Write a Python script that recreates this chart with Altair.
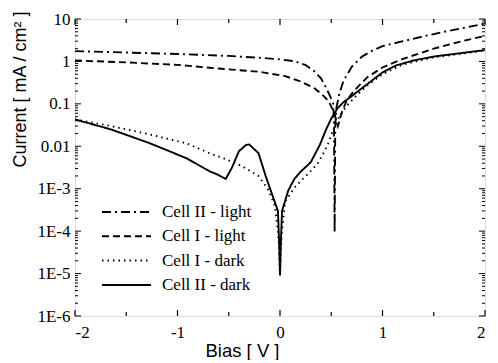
import altair as alt
import pandas as pd

# ---------------- data ----------------
series_names = ["Cell II - light", "Cell I - light", "Cell I - dark", "Cell II - dark"]

c2_light_bias = [-2.0, -1.5, -1.0, -0.5, -0.2, 0.0, 0.15, 0.25, 0.33, 0.4, 0.45, 0.49, 0.52,
                 0.527, 0.533, 0.539, 0.55, 0.58, 0.62, 0.7, 0.8, 0.9, 1.0, 1.2, 1.4, 1.6, 1.8, 2.0]
c2_light_curr = [1.75, 1.62, 1.5, 1.35, 1.22, 1.12, 1.0, 0.82, 0.6, 0.4, 0.24, 0.15, 0.1,
                 0.03, 9.5e-5, 0.03, 0.08, 0.18, 0.35, 0.75, 1.3, 1.8, 2.3, 3.0, 3.9, 5.0, 6.2, 7.8]

c1_light_bias = [-2.0, -1.5, -1.0, -0.6, -0.2, 0.05, 0.2, 0.34, 0.43, 0.48, 0.53, 0.565,
                 0.6, 0.65, 0.72, 0.85, 1.0, 1.2, 1.5, 1.75, 2.0]
c1_light_curr = [1.05, 0.95, 0.83, 0.68, 0.57, 0.45, 0.34, 0.23, 0.15, 0.11, 0.06, 0.03,
                 0.06, 0.12, 0.2, 0.42, 0.72, 1.15, 2.0, 2.9, 4.0]

c1_dark_bias = [-2.0, -1.65, -1.27, -0.91, -0.69, -0.53, -0.37, -0.21, -0.12, -0.05, -0.015, 0.0,
                0.015, 0.05, 0.14, 0.2, 0.3, 0.37, 0.46, 0.52, 0.58, 0.65, 0.75, 0.85, 1.0,
                1.2, 1.5, 1.75, 2.0]
c1_dark_curr = [0.043, 0.03, 0.019, 0.0117, 0.0069, 0.005, 0.0034, 0.002, 0.001, 4e-4, 8e-5, 1e-5,
                8e-5, 5e-4, 1.05e-3, 1.5e-3, 2.6e-3, 0.004, 0.01, 0.025, 0.05, 0.09, 0.16, 0.27, 0.5,
                0.85, 1.25, 1.5, 1.8]

c2_dark_bias = [-2.0, -1.65, -1.27, -0.91, -0.69, -0.6, -0.53, -0.47, -0.4, -0.33, -0.3, -0.21,
                -0.14, -0.09, -0.02, -0.008, 0.0, 0.008, 0.02, 0.08, 0.14, 0.2, 0.3, 0.39, 0.45,
                0.5, 0.56, 0.62, 0.68, 0.85, 1.0, 1.13, 1.3, 1.5, 1.75, 2.0]
c2_dark_curr = [0.043, 0.025, 0.0118, 0.0052, 0.0026, 0.0021, 0.0017, 0.0031, 0.0077, 0.0108, 0.011,
                0.0069, 0.002, 9e-4, 3e-4, 5e-5, 9e-6, 5e-5, 3e-4, 9e-4, 1.7e-3, 2.5e-3, 4.2e-3,
                0.011, 0.025, 0.045, 0.078, 0.11, 0.14, 0.29, 0.55, 0.8, 1.05, 1.3, 1.55, 1.85]

x_major = [-2, -1, 0, 1, 2]
x_minor = [-1.5, -0.5, 0.5, 1.5]
y_major = [1e-6, 1e-5, 1e-4, 1e-3, 0.01, 0.1, 1, 10]
y_labels = ["1E-6", "1E-5", "1E-4", "1E-3", "0.01", "0.1", "1", "10"]
y_exponents = [-6, -5, -4, -3, -2, -1, 0, 1]
minor_mult = [2, 3, 4, 5, 6, 7, 8, 9]

# ---------------- build tables ----------------
rows = []
for name, b, c in zip(series_names,
                      [c2_light_bias, c1_light_bias, c1_dark_bias, c2_dark_bias],
                      [c2_light_curr, c1_light_curr, c1_dark_curr, c2_dark_curr]):
    for i, (bb, cc) in enumerate(zip(b, c)):
        rows.append({"series": name, "bias": bb, "current": cc, "idx": i})
df = pd.DataFrame(rows)

y_minor = [m * v for v in y_major[:-1] for m in minor_mult]

W, H = 410, 297
serif = "Liberation Serif"
sans = "Liberation Sans"

x_scale = alt.Scale(domain=[-2, 2], nice=False, zero=False)
y_scale = alt.Scale(type="log", domain=[1e-6, 10], nice=False)

label_expr = " : ".join(
    f"round(log(datum.value)/LN10) == {e} ? '{l}'" for e, l in zip(y_exponents, y_labels)
) + " : ''"

dashes = [[9, 4, 2, 4], [7, 4], [1.5, 4], [1, 0]]

lines = alt.Chart(df).mark_line(color="black", strokeWidth=1.9, clip=True).encode(
    x=alt.X("bias:Q", scale=x_scale,
            axis=alt.Axis(values=x_major, title="Bias [ V ]", ticks=False, domain=False, grid=False,
                          labelExpr="datum.value + ''", labelFont=serif, labelFontSize=17,
                          labelColor="black", labelPadding=8, titleFont=sans, titleFontSize=18.5,
                          titleFontWeight="normal", titleColor="black", titleX=167,
                          titlePadding=1)),
    y=alt.Y("current:Q", scale=y_scale,
            axis=alt.Axis(values=y_major, title="Current [ mA / cm² ]", ticks=False, domain=False,
                          grid=False, labelExpr=label_expr, labelFont=serif, labelFontSize=17,
                          labelColor="black", labelPadding=5, titleFont=sans, titleFontSize=18,
                          titleFontWeight="normal", titleColor="black", titleY=70,
                          titlePadding=7)),
    strokeDash=alt.StrokeDash("series:N",
                              scale=alt.Scale(domain=series_names, range=dashes),
                              legend=alt.Legend(title=None, orient="none", legendX=26, legendY=185,
                                                symbolType="stroke", symbolSize=2401,
                                                clipHeight=16,
                                                symbolStrokeColor="black", symbolStrokeWidth=2,
                                                labelFont=serif, labelFontSize=17,
                                                labelColor="black", labelOffset=10,
                                                rowPadding=7.3)),
    order=alt.Order("idx:Q"),
)

xmaj = pd.DataFrame({"bias": x_major})
xmin = pd.DataFrame({"bias": x_minor})
ymaj = pd.DataFrame({"current": y_major})
ymin = pd.DataFrame({"current": y_minor})


def xticks(d, length):
    bottom = alt.Chart(d).mark_rule(color="black", strokeWidth=1.2).encode(
        x=alt.X("bias:Q", scale=x_scale), y=alt.value(H), y2=alt.value(H - length))
    top = alt.Chart(d).mark_rule(color="black", strokeWidth=1.2).encode(
        x=alt.X("bias:Q", scale=x_scale), y=alt.value(0), y2=alt.value(length))
    return [bottom, top]


def yticks(d, length):
    left = alt.Chart(d).mark_rule(color="black", strokeWidth=1.0).encode(
        y=alt.Y("current:Q", scale=y_scale), x=alt.value(0), x2=alt.value(length))
    right = alt.Chart(d).mark_rule(color="black", strokeWidth=1.0).encode(
        y=alt.Y("current:Q", scale=y_scale), x=alt.value(W), x2=alt.value(W - length))
    return [left, right]


layers = [lines] + xticks(xmaj, 6) + xticks(xmin, 4) + yticks(ymaj, 6) + yticks(ymin, 3)

chart = alt.layer(*layers).properties(
    width=W, height=H, padding={"left": 3, "top": 2, "right": 0, "bottom": 0}
).configure_view(stroke="black", strokeWidth=1.6).configure(background="white")

chart.save("out.html", embed_options={"renderer": "svg", "actions": False})
